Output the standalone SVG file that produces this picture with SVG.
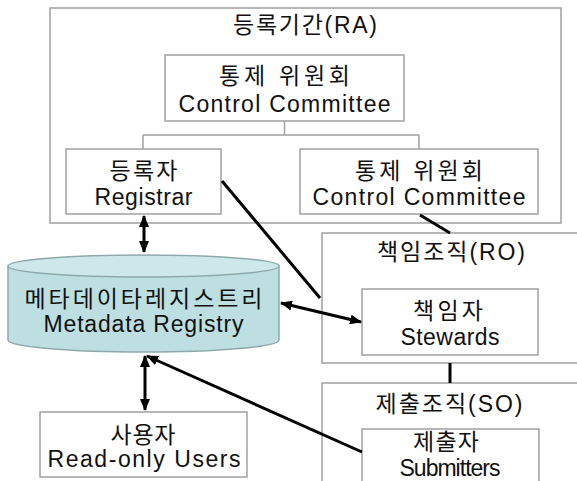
<svg xmlns="http://www.w3.org/2000/svg" width="577" height="481" viewBox="0 0 577 481">
<style>
.box{fill:#fff;stroke:#a0a0a0;stroke-width:1.5}
.t{font-family:"Liberation Sans","Noto Sans CJK KR",sans-serif;font-size:23px;fill:#111;text-anchor:middle}
.thin{stroke:#a0a0a0;stroke-width:1.5;fill:none}
.thick{stroke:#000;stroke-width:3;fill:none}
</style>
<defs>
<marker id="ah" markerUnits="userSpaceOnUse" markerWidth="12" markerHeight="10" refX="11" refY="5" orient="auto-start-reverse" viewBox="0 0 12 10">
<path d="M0,0 L12,5 L0,10 z" fill="#000"/>
</marker>
</defs>
<rect width="577" height="481" fill="#fff"/>
<g id="ra">
<rect class="box" x="50" y="8" width="511" height="215"/>
<text class="t" x="305" y="33" textLength="144" lengthAdjust="spacing">등록기간(RA)</text>
</g>
<g id="cc-top">
<rect class="box" x="165" y="55" width="239" height="66"/>
<text class="t" x="284.5" y="84" textLength="131" lengthAdjust="spacing">통제 위원회</text>
<text class="t" x="284.5" y="112" textLength="212" lengthAdjust="spacing">Control Committee</text>
</g>
<g id="registrar">
<rect class="box" x="66" y="149" width="155" height="65"/>
<text class="t" x="143.5" y="179" textLength="68" lengthAdjust="spacing">등록자</text>
<text class="t" x="143.5" y="205" textLength="98" lengthAdjust="spacing">Registrar</text>
</g>
<g id="cc-right">
<rect class="box" x="300" y="149" width="238" height="65"/>
<text class="t" x="419" y="179" textLength="128" lengthAdjust="spacing">통제 위원회</text>
<text class="t" x="419" y="205" textLength="213" lengthAdjust="spacing">Control Committee</text>
</g>
<g id="ro">
<rect class="box" x="322" y="233" width="280" height="130"/>
<text class="t" x="451" y="260" textLength="148" lengthAdjust="spacing">책임조직(RO)</text>
</g>
<g id="stewards">
<rect class="box" x="362" y="289" width="176" height="66"/>
<text class="t" x="448" y="319" textLength="70" lengthAdjust="spacing">책임자</text>
<text class="t" x="450" y="345" textLength="99" lengthAdjust="spacing">Stewards</text>
</g>
<g id="so">
<rect class="box" x="322" y="383" width="280" height="120"/>
<text class="t" x="449" y="412" textLength="147" lengthAdjust="spacing">제출조직(SO)</text>
</g>
<g id="submitters">
<rect class="box" x="362" y="429" width="177" height="70"/>
<text class="t" x="446" y="450" textLength="66" lengthAdjust="spacing">제출자</text>
<text class="t" x="450" y="476" textLength="101" lengthAdjust="spacing">Submitters</text>
</g>
<g id="registry">
<path d="M8,266 L8,340 A135.5,12 0 0 0 279,340 L279,266 Z" fill="#bddfe2" stroke="#8fa9ab" stroke-width="1.5"/>
<ellipse cx="143.5" cy="266" rx="135.5" ry="11" fill="#cce8ea" stroke="#8fa9ab" stroke-width="1.5"/>
<text class="t" x="143.5" y="307" textLength="238" lengthAdjust="spacing">메타데이타레지스트리</text>
<text class="t" x="143.5" y="332" textLength="200" lengthAdjust="spacing">Metadata Registry</text>
</g>
<g id="users">
<rect class="box" x="40" y="412" width="207" height="65"/>
<text class="t" x="143" y="443" textLength="65" lengthAdjust="spacing">사용자</text>
<text class="t" x="144" y="467" textLength="193" lengthAdjust="spacing">Read-only Users</text>
</g>
<g id="connectors">
<path class="thin" d="M284.5,121 V135 M143,135 H419 M143,135 V149 M419,135 V149"/>
<path class="thick" d="M222,181 L320,298"/>
<path class="thick" d="M420,215 L450,233"/>
<path class="thick" d="M450,363 V383"/>
<path class="thick" d="M144,216 V252" marker-start="url(#ah)" marker-end="url(#ah)"/>
<path class="thick" d="M281,303 L361,322" marker-start="url(#ah)" marker-end="url(#ah)"/>
<path class="thick" d="M145,356 V410" marker-start="url(#ah)" marker-end="url(#ah)"/>
<path class="thick" d="M362,452 L147,356" marker-end="url(#ah)"/>
</g>
</svg>
